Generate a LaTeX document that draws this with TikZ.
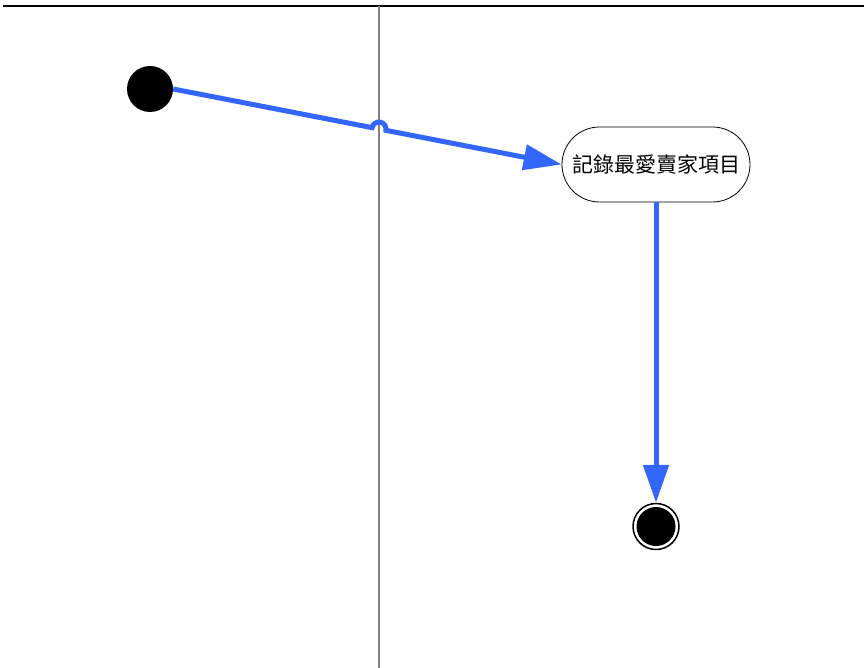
\documentclass[tikz,border=0pt]{standalone}
\usepackage{fontspec}
\newfontfamily\cjk{Noto Sans CJK TC}
\usepackage{xcolor}
\usepackage{tikz}
\usetikzlibrary{
  arrows.meta,
  positioning,
  calc,
  shapes.misc
}
\definecolor{flowblue}{HTML}{3366FF}
\definecolor{lanegray}{HTML}{7F7F7F}

\begin{document}
\begin{tikzpicture}[x=1pt,y=1pt,
    startdot/.style={circle,fill=black,minimum size=46pt,inner sep=0pt},
    enddot/.style={circle,draw=black,line width=1.5pt,fill=white,minimum size=46pt,inner sep=0pt,
      path picture={\fill[black] (path picture bounding box.center) circle (19.5pt);}},
    action/.style={rounded rectangle,draw=black,line width=0.8pt,minimum width=188pt,minimum height=75pt,
      inner sep=0pt,font=\cjk\fontsize{21}{25}\selectfont},
    flow/.style={flowblue,line width=5pt,-{Triangle[length=38pt,width=25pt]}}]
  \useasboundingbox (0,0) rectangle (864,-668);
  % swimlane frame
  \draw[line width=2pt] (3,-6) -- (864,-6);
  \coordinate (laneTop) at (379,-6);
  \coordinate (laneBot) at (379,-668);
  \draw[lanegray,line width=1.5pt] (laneTop) -- (laneBot);
  % nodes
  \node[startdot] (start) at (150,-89) {};
  \node[action] (record) at (656,-164.5) {記錄最愛賣家項目};
  \node[enddot] (final) at (656,-526.5) {};
  % crossing with the lane line (small hop)
  \coordinate (cross) at (intersection of start.east--record.west and laneTop--laneBot);
  \coordinate (hopA) at ($(cross)!7pt!(start.east)$);
  % flows
  \draw[flow] (start.east) -- (hopA) arc[start angle=169,end angle=-11,radius=7pt] -- (record.west);
  \draw[flow] (record.south) -- (final.north);
\end{tikzpicture}
\end{document}
